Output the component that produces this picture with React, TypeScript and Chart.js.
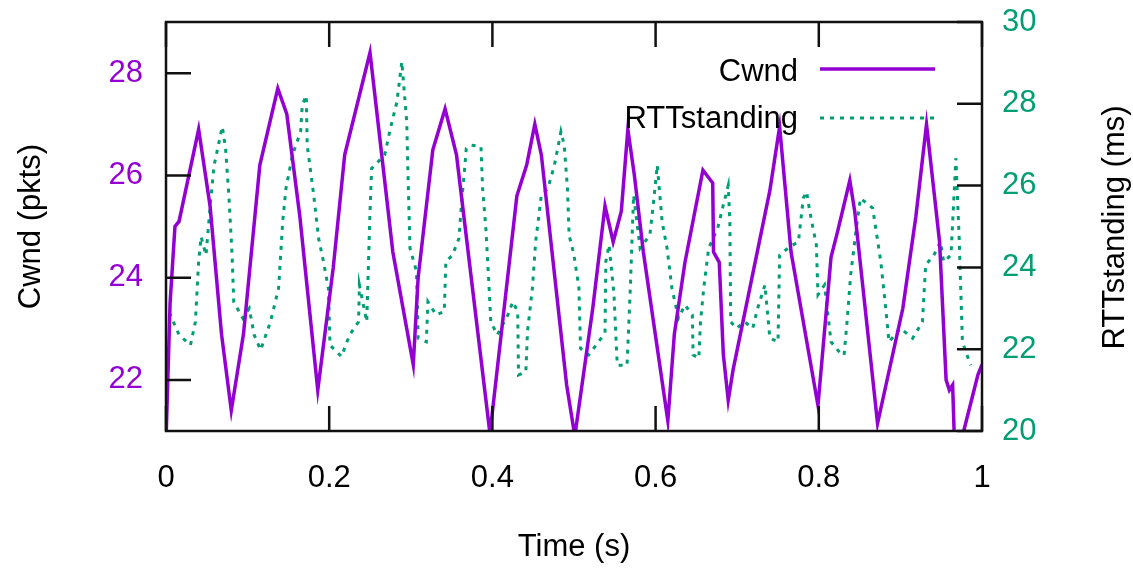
import React, { useEffect, useRef } from "react";
import { Chart, registerables } from "chart.js";

Chart.register(...registerables);

// ---- data ----
const cwndTime = [
  0.0, 0.005, 0.011, 0.016, 0.04, 0.054, 0.068, 0.08, 0.095, 0.115, 0.137, 0.148, 0.164, 0.186,
  0.205, 0.219, 0.25, 0.278, 0.303, 0.309, 0.327, 0.342, 0.356, 0.397, 0.43, 0.442, 0.452, 0.46,
  0.491, 0.501, 0.523, 0.538, 0.548, 0.558, 0.566, 0.574, 0.585, 0.615, 0.623, 0.636, 0.658,
  0.67, 0.671, 0.678, 0.683, 0.689, 0.695, 0.74, 0.752, 0.766, 0.799, 0.815, 0.823, 0.838, 0.844,
  0.872, 0.903, 0.919, 0.932, 0.948, 0.956, 0.96, 0.964, 0.966, 0.976, 0.995, 1.0,
];
const cwndValue = [
  20.8, 23.5, 25.0, 25.1, 26.9, 25.4, 22.9, 21.4, 22.9, 26.2, 27.7, 27.2, 25.2, 21.8,
  24.2, 26.4, 28.4, 24.5, 22.3, 24.0, 26.5, 27.3, 26.4, 20.95, 25.6, 26.2, 27.0, 26.4,
  21.9, 20.9, 23.4, 25.4, 24.7, 25.3, 26.9, 26.0, 24.5, 21.2, 22.9, 24.3, 26.1,
  25.85, 24.5, 24.3, 22.5, 21.6, 22.2, 25.7, 26.95, 24.5, 21.5, 24.4, 24.9, 25.9, 25.3,
  21.15, 23.4, 25.2, 27.0, 24.7, 22.0, 21.8, 21.9, 20.9, 20.9, 22.1, 22.3,
];

const rttTime = [
  0.004, 0.016, 0.03, 0.036, 0.04, 0.043, 0.049, 0.055, 0.059, 0.069, 0.073, 0.077, 0.081, 0.083,
  0.094, 0.102, 0.108, 0.116, 0.128, 0.138, 0.143, 0.147, 0.155, 0.165, 0.167, 0.172, 0.173, 0.181,
  0.187, 0.193, 0.199, 0.201, 0.215, 0.225, 0.236, 0.237, 0.246, 0.25, 0.252, 0.268, 0.275, 0.283,
  0.289, 0.295, 0.297, 0.299, 0.307, 0.309, 0.319, 0.321, 0.331, 0.341, 0.343, 0.351, 0.359, 0.362,
  0.366, 0.368, 0.374, 0.386, 0.388, 0.392, 0.396, 0.398, 0.406, 0.419, 0.425, 0.431, 0.432, 0.441,
  0.443, 0.449, 0.453, 0.46, 0.468, 0.476, 0.48, 0.484, 0.488, 0.492, 0.494, 0.5, 0.506, 0.508,
  0.518, 0.53, 0.538, 0.539, 0.543, 0.549, 0.553, 0.565, 0.569, 0.573, 0.581, 0.593, 0.598, 0.602,
  0.608, 0.614, 0.62, 0.628, 0.636, 0.645, 0.646, 0.653, 0.655, 0.659, 0.665, 0.676, 0.683, 0.689,
  0.691, 0.692, 0.699, 0.709, 0.719, 0.725, 0.734, 0.74, 0.75, 0.752, 0.762, 0.775, 0.781, 0.785,
  0.789, 0.797, 0.799, 0.807, 0.815, 0.828, 0.831, 0.835, 0.839, 0.847, 0.851, 0.866, 0.876, 0.882,
  0.886, 0.9, 0.915, 0.927, 0.931, 0.941, 0.949, 0.953, 0.962, 0.968, 0.972, 0.976, 0.986,
];
const rttValue = [
  22.9, 22.35, 22.1, 22.67, 24.14, 24.75, 24.3, 25.69, 26.5, 27.44, 26.91, 25.77, 24.3, 23.16,
  22.76, 23.0, 22.35, 21.98, 22.67, 23.49, 25.12, 25.93, 26.75, 27.32, 27.97, 28.2, 26.99, 25.77,
  24.71, 24.14, 23.49, 22.1, 21.82, 22.35, 22.67, 23.57, 22.67, 25.36, 26.42, 26.75, 27.4, 28.05,
  29.03, 27.56, 25.93, 24.47, 23.9, 22.27, 22.18, 23.16, 22.84, 22.92, 24.14, 24.3, 24.71, 25.53,
  26.42, 26.91, 26.99, 26.95, 25.93, 24.95, 23.49, 22.67, 22.35, 22.84, 23.16, 22.92, 21.37, 21.45,
  22.43, 23.49, 24.63, 25.77, 25.93, 26.5, 26.91, 27.32, 26.99, 25.93, 24.79, 24.3, 23.5, 22.02,
  21.86, 22.18, 22.4, 24.14, 24.55, 23.33, 21.61, 21.61, 23.49, 25.77, 24.47, 24.79, 25.69, 26.5,
  25.12, 24.47, 23.49, 22.76, 23.08, 22.84, 21.86, 21.78, 22.67, 23.49, 24.47, 24.95, 25.53, 26.0,
  25.12, 22.67, 22.51, 22.67, 22.51, 23.0, 23.57, 22.27, 22.18, 24.3, 24.47, 24.63, 25.69, 25.85,
  25.36, 24.55, 23.33, 23.57, 22.18, 21.86, 21.86, 22.76, 23.81, 25.12, 25.69, 25.45, 24.14, 23.0,
  22.18, 22.51, 22.27, 22.67, 24.06, 24.3, 24.63, 24.14, 24.3, 26.67, 24.71, 22.18, 21.61,
];

const timeTicks = [0, 0.2, 0.4, 0.6, 0.8, 1];
const cwndTicks = [22, 24, 26, 28];
const rttTicks = [20, 22, 24, 26, 28, 30];

const seriesLabels = ["Cwnd", "RTTstanding"];
const axisTitles = { x: "Time (s)", y: "Cwnd (pkts)", y2: "RTTstanding (ms)" };

const PURPLE = "#9400d3";
const GREEN = "#009e73";
const FONT = "'Liberation Sans', Arial, Helvetica, sans-serif";
const FS = 31;

const framePlugin = {
  id: "gnuFrame",
  afterDraw(chart: any) {
    const { ctx, chartArea: a, scales } = chart;
    ctx.save();
    // frame
    ctx.strokeStyle = "#111";
    ctx.lineWidth = 2.5;
    ctx.strokeRect(a.left, a.top, a.right - a.left, a.bottom - a.top);
    // inward ticks
    const L = 25;
    ctx.beginPath();
    scales.x.ticks.forEach((t: any) => {
      const px = scales.x.getPixelForValue(t.value);
      ctx.moveTo(px, a.bottom);
      ctx.lineTo(px, a.bottom - L);
      ctx.moveTo(px, a.top);
      ctx.lineTo(px, a.top + L);
    });
    scales.y.ticks.forEach((t: any) => {
      const py = scales.y.getPixelForValue(t.value);
      ctx.moveTo(a.left, py);
      ctx.lineTo(a.left + L, py);
    });
    scales.y2.ticks.forEach((t: any) => {
      const py = scales.y2.getPixelForValue(t.value);
      ctx.moveTo(a.right, py);
      ctx.lineTo(a.right - L, py);
    });
    ctx.stroke();

    // legend (inside plot, top-right)
    ctx.font = `${FS}px ${FONT}`;
    ctx.fillStyle = "#000";
    ctx.textAlign = "right";
    ctx.textBaseline = "middle";
    const textRight = a.right - 184;
    const sx0 = a.right - 162;
    const sx1 = a.right - 47;
    const rows = [a.top + 49, a.top + 96];
    chart.data.datasets.forEach((ds: any, i: number) => {
      ctx.fillText(ds.label, textRight, rows[i] + 1);
      ctx.beginPath();
      ctx.strokeStyle = ds.borderColor;
      ctx.lineWidth = ds.borderWidth;
      ctx.setLineDash(ds.borderDash || []);
      ctx.moveTo(sx0, rows[i] - 2 + i * 2);
      ctx.lineTo(sx1, rows[i] - 2 + i * 2);
      ctx.stroke();
      ctx.setLineDash([]);
    });

    // right axis title, reading bottom-to-top
    ctx.save();
    ctx.translate(chart.width - 18, (a.top + a.bottom) / 2 + 1);
    ctx.rotate(-Math.PI / 2);
    ctx.textAlign = "center";
    ctx.fillStyle = "#000";
    ctx.fillText(axisTitles.y2, 0, 0);
    ctx.restore();

    ctx.restore();
  },
};

export default function App() {
  const ref = useRef<HTMLCanvasElement | null>(null);

  useEffect(() => {
    if (!ref.current) return;
    Chart.defaults.font.family = FONT;
    const chart = new Chart(ref.current, {
      type: "line",
      data: {
        datasets: [
          {
            label: seriesLabels[0],
            data: cwndTime.map((t, i) => ({ x: t, y: cwndValue[i] })),
            yAxisID: "y",
            borderColor: PURPLE,
            borderWidth: 3.5,
            pointRadius: 0,
            tension: 0,
            fill: false,
          },
          {
            label: seriesLabels[1],
            data: rttTime.map((t, i) => ({ x: t, y: rttValue[i] })),
            yAxisID: "y2",
            borderColor: GREEN,
            borderWidth: 3,
            borderDash: [4, 6],
            pointRadius: 0,
            tension: 0,
            fill: false,
          },
        ],
      },
      options: {
        animation: false,
        responsive: true,
        maintainAspectRatio: false,
        layout: { padding: { top: 22, left: 0, right: 0, bottom: 0 } },
        plugins: { legend: { display: false }, tooltip: { enabled: false } },
        scales: {
          x: {
            type: "linear",
            position: "bottom",
            min: 0,
            max: 1,
            afterBuildTicks: (s: any) => {
              s.ticks = timeTicks.map((v) => ({ value: v }));
            },
            afterFit: (s: any) => {
              s.height = 137;
              s.paddingLeft = 0;
              s.paddingRight = 0;
            },
            grid: { display: false, drawTicks: false },
            border: { display: false },
            ticks: {
              color: "#000",
              font: { size: FS },
              padding: 29,
              maxRotation: 0,
              callback: (v: any) => String(v),
            },
            title: {
              display: true,
              text: axisTitles.x,
              color: "#000",
              font: { size: FS },
              padding: { top: 0, bottom: 2 },
            },
          },
          y: {
            type: "linear",
            position: "left",
            min: 21,
            max: 29,
            afterBuildTicks: (s: any) => {
              s.ticks = cwndTicks.map((v) => ({ value: v }));
            },
            afterFit: (s: any) => {
              s.width = 166;
              s.paddingTop = 0;
              s.paddingBottom = 0;
            },
            grid: { display: false, drawTicks: false },
            border: { display: false },
            ticks: { color: PURPLE, font: { size: FS }, padding: 23 },
            title: {
              display: true,
              text: axisTitles.y,
              color: "#000",
              font: { size: FS },
              padding: { top: 13, bottom: 0 },
            },
          },
          y2: {
            type: "linear",
            position: "right",
            min: 20,
            max: 30,
            afterBuildTicks: (s: any) => {
              s.ticks = rttTicks.map((v) => ({ value: v }));
            },
            afterFit: (s: any) => {
              s.width = 151;
              s.paddingTop = 0;
              s.paddingBottom = 0;
            },
            grid: { display: false, drawTicks: false },
            border: { display: false },
            ticks: { color: GREEN, font: { size: FS }, padding: 20 },
            title: { display: false },
          },
        },
      },
      plugins: [framePlugin],
    } as any);
    return () => chart.destroy();
  }, []);

  return (
    <div style={{ position: "fixed", left: 0, top: 0, width: 1133, height: 568, background: "#fff" }}>
      <canvas ref={ref} />
    </div>
  );
}
